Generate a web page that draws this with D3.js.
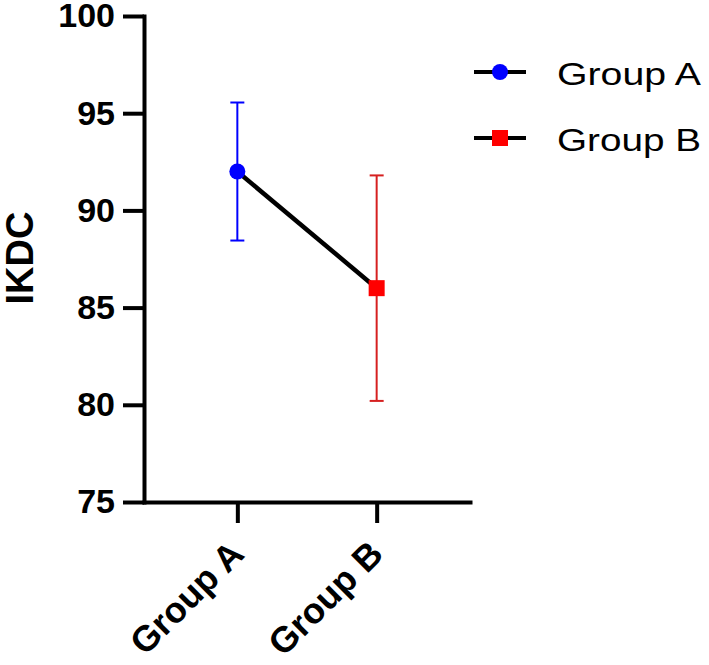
<!DOCTYPE html>
<html>
<head>
<meta charset="utf-8">
<script src="https://cdn.jsdelivr.net/npm/d3@7"></script>
<style>
  body { margin: 0; background: #fff; }
  text { font-family: "Liberation Sans", Arial, sans-serif; }
</style>
</head>
<body>
<div id="chart"></div>
<script>
// Data
const groups = ["Group A", "Group B"];
const means = [92, 86];
const errors = [3.55, 5.8];
const yTicks = [75, 80, 85, 90, 95, 100];
const colors = ["#0000ff", "#ff0000"];
const errColors = ["#0000ff", "#d62020"];

const width = 709, height = 665;

const svg = d3.select("#chart")
    .append("svg")
    .attr("width", width)
    .attr("height", height);

// Scales
const x = d3.scalePoint()
    .domain(groups)
    .range([144, 470])
    .padding(0.67);

const y = d3.scaleLinear()
    .domain([75, 100])
    .range([502, 16]);

// Y axis
const yAxis = svg.append("g")
    .attr("transform", "translate(144,0)")
    .call(d3.axisLeft(y).tickValues(yTicks).tickSize(21).tickSizeOuter(0).tickPadding(8));

yAxis.select(".domain").attr("stroke-width", 4).attr("stroke-linecap", "square");
yAxis.selectAll(".tick line").attr("stroke-width", 4);
yAxis.selectAll(".tick text")
    .attr("font-size", 34)
    .attr("font-weight", "bold")
    .attr("fill", "#000");

// X axis
const xAxis = svg.append("g")
    .attr("transform", "translate(0,502)")
    .call(d3.axisBottom(x).tickSize(21).tickSizeOuter(0));

xAxis.select(".domain").attr("stroke-width", 4).attr("stroke-linecap", "square");
xAxis.selectAll(".tick line").attr("stroke-width", 4);
xAxis.selectAll(".tick text")
    .attr("font-size", 36)
    .attr("font-weight", "bold")
    .attr("fill", "#000")
    .attr("text-anchor", "end")
    .attr("y", 0)
    .attr("dy", 0)
    .attr("transform", "translate(8,54) rotate(-45)");

// Y title
svg.append("text")
    .attr("transform", "translate(33,258) rotate(-90)")
    .attr("text-anchor", "middle")
    .attr("font-size", 38)
    .attr("font-weight", "bold")
    .text("IKDC");

// Connecting line
const line = d3.line()
    .x((d, i) => x(groups[i]))
    .y(d => y(d));

svg.append("path")
    .datum(means)
    .attr("d", line)
    .attr("fill", "none")
    .attr("stroke", "#000")
    .attr("stroke-width", 4.5);

// Error bars
const bars = svg.selectAll(".err")
    .data(groups)
    .enter()
    .append("g")
    .attr("class", "err")
    .attr("stroke", (d, i) => errColors[i])
    .attr("stroke-width", 2);

bars.append("line")
    .attr("x1", d => x(d))
    .attr("x2", d => x(d))
    .attr("y1", (d, i) => y(means[i] + errors[i]))
    .attr("y2", (d, i) => y(means[i] - errors[i]));

bars.append("line")
    .attr("x1", d => x(d) - 7)
    .attr("x2", d => x(d) + 7)
    .attr("y1", (d, i) => y(means[i] + errors[i]))
    .attr("y2", (d, i) => y(means[i] + errors[i]));

bars.append("line")
    .attr("x1", d => x(d) - 7)
    .attr("x2", d => x(d) + 7)
    .attr("y1", (d, i) => y(means[i] - errors[i]))
    .attr("y2", (d, i) => y(means[i] - errors[i]));

// Markers
svg.append("circle")
    .attr("cx", x(groups[0]))
    .attr("cy", y(means[0]))
    .attr("r", 8)
    .attr("fill", colors[0]);

svg.append("rect")
    .attr("x", x(groups[1]) - 8)
    .attr("y", y(means[1]) - 8)
    .attr("width", 16)
    .attr("height", 16)
    .attr("fill", colors[1]);

// Legend
const legend = svg.selectAll(".legend")
    .data(groups)
    .enter()
    .append("g")
    .attr("class", "legend")
    .attr("transform", (d, i) => `translate(0,${72 + i * 66})`);

legend.append("line")
    .attr("x1", 474)
    .attr("x2", 526)
    .attr("stroke", "#000")
    .attr("stroke-width", 4);

legend.each(function (d, i) {
    const g = d3.select(this);
    if (i === 0) {
        g.append("circle").attr("cx", 500).attr("r", 8).attr("fill", colors[0]);
    } else {
        g.append("rect").attr("x", 492).attr("y", -8).attr("width", 16).attr("height", 16).attr("fill", colors[1]);
    }
});

legend.append("text")
    .attr("x", 557)
    .attr("y", 13)
    .attr("font-size", 31)
    .attr("textLength", 144)
    .attr("lengthAdjust", "spacingAndGlyphs")
    .text(d => d);
</script>
</body>
</html>
